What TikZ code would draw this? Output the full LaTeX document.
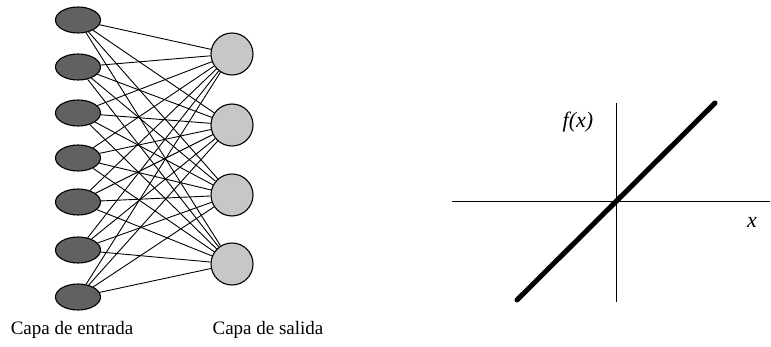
\documentclass[tikz,border=0pt]{standalone}
\usepackage{fontspec}
\setmainfont{Liberation Serif}
\usetikzlibrary{shapes.geometric}

\tikzset{
  inunit/.style={ellipse,draw,line width=1.1pt,fill=black!62,minimum width=45pt,minimum height=26pt,inner sep=0pt},
  outunit/.style={circle,draw,line width=1.1pt,fill=black!22,minimum size=42pt,inner sep=0pt},
  axis/.style={line width=1pt},
}

\begin{document}
\begin{tikzpicture}[x=1pt,y=-1pt,font=\fontsize{19}{21}\selectfont]
  \useasboundingbox (0,0) rectangle (771,347);
  % red: entrada y salida
  \foreach \i/\y in {1/20,2/67,3/113,4/158,5/202,6/250,7/297}
    \node[inunit] (in\i) at (78,\y) {};
  \foreach \j/\y in {1/54,2/125,3/195,4/264}
    \node[outunit] (out\j) at (232,\y) {};
  \foreach \i in {1,...,7}
    \foreach \j in {1,...,4}
      \draw[line width=0.9pt] (in\i) -- (out\j);
  \node (lin) at (72,330) {Capa de entrada};
  \node (lout) at (268,330) {Capa de salida};

  % funcion lineal
  \coordinate (o) at (616,202);
  \coordinate (xl) at (452,202); \coordinate (xr) at (770,202);
  \coordinate (yb) at (616,302); \coordinate (yt) at (616,103);
  \draw[axis] (xl) -- (xr);
  \draw[axis] (yb) -- (yt);
  \coordinate (p) at (517,300); \coordinate (q) at (715,103);
  \draw[line width=5pt,line cap=round] (p) -- (q);
  \node[font=\fontsize{22}{24}\selectfont\itshape] (fx) at (578,122) {f(x)};
  \node[font=\fontsize{22}{24}\selectfont\itshape] (xx) at (752,222) {x};
\end{tikzpicture}
\end{document}
